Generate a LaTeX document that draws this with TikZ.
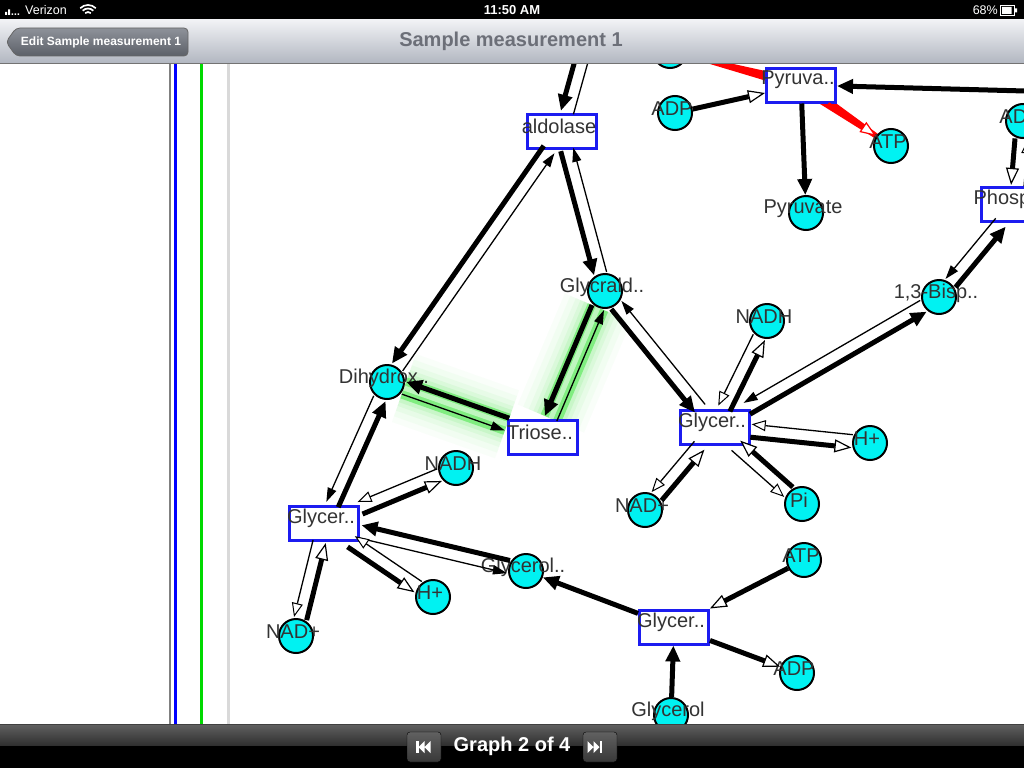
\documentclass[tikz,border=0pt]{standalone}
\usepackage{fontspec}
\setmainfont{Liberation Sans}
\usepackage{tikz}
\usetikzlibrary{arrows.meta,calc,backgrounds}

\definecolor{metcyan}{RGB}{0,242,242}
\definecolor{enzblue}{RGB}{28,28,240}
\definecolor{glow}{RGB}{110,235,110}
\definecolor{navtop}{RGB}{241,242,245}
\definecolor{navbot}{RGB}{178,183,193}
\definecolor{titlegray}{RGB}{108,111,120}
\definecolor{btntop}{RGB}{142,146,154}
\definecolor{btnbot}{RGB}{92,96,104}

\newcommand{\lbfont}{\fontsize{20}{22}\selectfont}

\tikzstyle{met}=[circle, draw=black, fill=metcyan, line width=2pt, minimum size=34pt, inner sep=0pt]
\tikzstyle{enz}=[rectangle, draw=enzblue, fill=white, line width=3pt, minimum width=69pt, minimum height=34pt, inner sep=0pt]
\tikzstyle{metlbl}=[font=\lbfont, text=black!80, inner sep=0pt, xshift=-3pt, yshift=4pt]
\tikzstyle{enzlbl}=[font=\lbfont, text=black!80, inner sep=0pt, xshift=-3pt, yshift=5pt]
\tikzstyle{fwd}=[line width=5pt, -{Triangle[length=16pt,width=14pt]}]
\tikzstyle{back}=[line width=1.3pt, -{Triangle[length=14pt,width=9pt]}]
\tikzstyle{cofwd}=[line width=5pt, -{Triangle[length=17pt,width=13pt,fill=white,line width=1.2pt]}]
\tikzstyle{coback}=[line width=1.3pt, -{Triangle[length=14pt,width=11pt,fill=white,line width=1pt]}]
\tikzstyle{redhead}=[red, line width=3pt, -{Triangle[length=16pt,width=12pt,fill=white,line width=1.2pt]}]
% each line of a pair sits on the right of its own direction
\tikzset{rs/.style 2 args={transform canvas={shift={($(#1)!6.5pt!-90:(#2)-(#1)$)}}}}

\begin{document}
\begin{tikzpicture}[x=1pt,y=-1pt]
\useasboundingbox (0,0) rectangle (1024,768);
\begin{scope}[on background layer]
\fill[white] (0,0) rectangle (1024,768);
\end{scope}

% upper part
\coordinate (fbp) at (593,20);
\coordinate (pkin) at (1100,93);
\node[enz, label={[enzlbl]center:aldolase}] (ald) at (562,131) {};
\node[enz, label={[enzlbl]center:Pyruva..}] (pk) at (801,85) {};
\node[met] (pep) at (670,51) {};
\node[met, label={[metlbl]center:ADP}] (adp1) at (675,113) {};
\node[met, label={[metlbl]center:ATP}] (atp1) at (891,146) {};
\node[met, label={[metlbl]center:Pyruvate}] (pyr) at (806,213) {};
\node[met, label={[metlbl]center:ADP}] (adp2) at (1023,121) {};
\node[enz, label={[enzlbl]center:Phosph..}] (pgk) at (1016,204) {};
\node[met, label={[metlbl]center:{1,3-Bisp..}}] (bpg) at (939,297) {};
\node[met, label={[metlbl]center:Glycrald..}] (gap) at (605,291) {};
\node[met, label={[metlbl]center:NADH}] (nadh1) at (767,321) {};
\node[enz, label={[enzlbl]center:Glycer..}] (gapdh) at (715,427) {};
\node[met, label={[metlbl]center:H+}] (h1) at (870,443) {};
\node[met, label={[metlbl]center:Pi}] (pi) at (802,504) {};
\node[met, label={[metlbl]center:NAD+}] (nad1) at (645,510) {};

% lower part
\node[met, label={[metlbl]center:Dihydrox..}] (dhap) at (387,382) {};
\node[enz, label={[enzlbl]center:Triose..}] (tpi) at (543,437) {};
\node[met, label={[metlbl]center:NADH}] (nadh2) at (456,468) {};
\node[enz, label={[enzlbl]center:Glycer..}] (g3pdh) at (324,523) {};
\node[met, label={[metlbl]center:NAD+}] (nad2) at (296,636) {};
\node[met, label={[metlbl]center:H+}] (h2) at (433,597) {};
\node[met, label={[metlbl]center:Glycerol..}] (g3p) at (526,571) {};
\node[met, label={[metlbl]center:ATP}] (atp3) at (804,560) {};
\node[enz, label={[enzlbl]center:Glycer..}] (gk) at (674,627) {};
\node[met, label={[metlbl]center:ADP}] (adp3) at (797,673) {};
\node[met, label={[metlbl]center:Glycerol}] (glol) at (671,715) {};

% highlight
\begin{scope}[on background layer, line cap=round]
\foreach \w/\o in {72/0.04, 60/0.05, 48/0.07, 38/0.1, 30/0.16}{
  \draw[draw=glow, line width=\w pt, opacity=\o] (dhap) -- (tpi) (tpi) -- (gap);
}
\draw[draw=glow, line width=22pt, opacity=0.8, line cap=butt] (dhap) -- (tpi) (tpi) -- (gap);
\draw[draw=white, line width=5pt, opacity=0.5, line cap=butt] (dhap) -- (tpi) (tpi) -- (gap);
\fill[red] ($(pep)!1pt!90:(pk)$) -- ($(pk)!6pt!-90:(pep)$) -- ($(pk)!6pt!90:(pep)$) -- ($(pep)!1pt!-90:(pk)$) -- cycle;
\fill[red] ($(pk)!6pt!90:(atp1)$) -- ($(atp1)!2pt!-90:(pk)$) -- ($(atp1)!2pt!90:(pk)$) -- ($(pk)!6pt!-90:(atp1)$) -- cycle;
\end{scope}

\draw[fwd,rs={fbp}{ald}] (fbp) -- (ald);
\draw[back,rs={ald}{fbp}] (ald) -- (fbp);
\draw[fwd,rs={ald}{dhap}] (ald) -- (dhap);
\draw[back,rs={dhap}{ald}] (dhap) -- (ald);
\draw[fwd,rs={ald}{gap}] (ald) -- (gap);
\draw[back,rs={gap}{ald}] (gap) -- (ald);
\draw[fwd,rs={gap}{tpi}] (gap) -- (tpi);
\draw[back,rs={tpi}{gap}] (tpi) -- (gap);
\draw[fwd,rs={tpi}{dhap}] (tpi) -- (dhap);
\draw[back,rs={dhap}{tpi}] (dhap) -- (tpi);

\draw[fwd,rs={gap}{gapdh}] (gap) -- (gapdh);
\draw[back,rs={gapdh}{gap}] (gapdh) -- (gap);
\draw[cofwd,rs={gapdh}{nadh1}] (gapdh) -- (nadh1);
\draw[coback,rs={nadh1}{gapdh}] (nadh1) -- (gapdh);
\draw[cofwd,rs={gapdh}{h1}] (gapdh) -- (h1);
\draw[coback,rs={h1}{gapdh}] (h1) -- (gapdh);
\draw[cofwd,rs={pi}{gapdh}] (pi) -- (gapdh);
\draw[coback,rs={gapdh}{pi}] (gapdh) -- (pi);
\draw[cofwd,rs={nad1}{gapdh}] (nad1) -- (gapdh);
\draw[coback,rs={gapdh}{nad1}] (gapdh) -- (nad1);
\draw[fwd,rs={gapdh}{bpg}] (gapdh) -- (bpg);
\draw[back,rs={bpg}{gapdh}] (bpg) -- (gapdh);
\draw[fwd,rs={bpg}{pgk}] (bpg) -- (pgk);
\draw[back,rs={pgk}{bpg}] (pgk) -- (bpg);
\draw[cofwd,rs={adp2}{pgk}] (adp2) -- (pgk);
\draw[coback,rs={pgk}{adp2}] (pgk) -- (adp2);

\draw[fwd] (pkin) -- (pk);
\draw[cofwd] (adp1) -- (pk);
\draw[fwd] (pk) -- (pyr);
\draw[redhead] (pk) -- (atp1);

\draw[fwd,rs={g3pdh}{dhap}] (g3pdh) -- (dhap);
\draw[back,rs={dhap}{g3pdh}] (dhap) -- (g3pdh);
\draw[cofwd,rs={g3pdh}{nadh2}] (g3pdh) -- (nadh2);
\draw[coback,rs={nadh2}{g3pdh}] (nadh2) -- (g3pdh);
\draw[fwd,rs={g3p}{g3pdh}] (g3p) -- (g3pdh);
\draw[back,rs={g3pdh}{g3p}] (g3pdh) -- (g3p);
\draw[cofwd,rs={g3pdh}{h2}] (g3pdh) -- (h2);
\draw[coback,rs={h2}{g3pdh}] (h2) -- (g3pdh);
\draw[cofwd,rs={nad2}{g3pdh}] (nad2) -- (g3pdh);
\draw[coback,rs={g3pdh}{nad2}] (g3pdh) -- (nad2);

\draw[fwd] (gk) -- (g3p);
\draw[cofwd] (atp3) -- (gk);
\draw[cofwd] (gk) -- (adp3);
\draw[fwd] (glol) -- (gk);

% side lines
\draw[gray, line width=2pt] (170,64) -- (170,724);
\draw[blue, line width=3pt] (175.5,64) -- (175.5,724);
\draw[green!85!black, line width=3pt] (201.5,64) -- (201.5,724);
\draw[black!15, line width=3pt] (228.5,64) -- (228.5,724);

% status bar
\fill[black] (0,0) rectangle (1024,20);
\fill[white] (5,12) rectangle (7,15) (8,9.5) rectangle (10,15);
\fill[white] (11.5,13.5) rectangle (13,15) (14.5,13.5) rectangle (16,15) (17.5,13.5) rectangle (19,15);
\node[white, font=\fontsize{12.5}{14}\selectfont, anchor=west, inner sep=0pt] (carrier) at (25,10.5) {Verizon};
\foreach \r in {4,7.5,11}
  \draw[white, line width=1.7pt] ([shift={(225:\r)}]88,16) arc[start angle=225, end angle=315, radius=\r];
\node[white, font=\bfseries\fontsize{13}{15}\selectfont] (clock) at (512,10.5) {11:50 AM};
\node[white, font=\fontsize{12.5}{14}\selectfont, anchor=east, inner sep=0pt] (charge) at (998,10.5) {68\%};
\draw[white, line width=1pt] (1000.5,5.5) rectangle (1014.5,15.5);
\fill[white] (1015,8.5) rectangle (1017,12.5) (1002,7) rectangle (1011.5,14);

% navigation bar
\shade[top color=navtop, bottom color=navbot] (0,20) rectangle (1024,63);
\draw[black!55, line width=1pt] (0,63.5) -- (1024,63.5);
\path[draw=black!60, line width=0.8pt, top color=btntop, bottom color=btnbot, rounded corners=4pt]
  (6,42) -- (16,28) -- (188,28) -- (188,56) -- (16,56) -- cycle;
\node[white, font=\bfseries\fontsize{12}{14}\selectfont] (backbtn) at (101,42) {Edit Sample measurement 1};
\node[titlegray, font=\bfseries\fontsize{20}{24}\selectfont] (title) at (511,41) {Sample measurement 1};

% bottom bar
\shade[top color=black!62, bottom color=black!82] (0,724) rectangle (1024,746);
\fill[black] (0,746) rectangle (1024,768);
\draw[black!75, line width=1pt] (0,724.5) -- (1024,724.5);
\path[draw=black, top color=black!62, bottom color=black!78, rounded corners=3pt] (407,732) rectangle (441,762);
\path[draw=black, top color=black!62, bottom color=black!78, rounded corners=3pt] (583,732) rectangle (617,762);
\fill[white] (416,741) rectangle (418.5,753);
\fill[white] (418.5,747) -- (424.5,741) -- (424.5,753) -- cycle (424.5,747) -- (430.5,741) -- (430.5,753) -- cycle;
\fill[white] (593.5,741) -- (599.5,747) -- (593.5,753) -- cycle (587.5,741) -- (593.5,747) -- (587.5,753) -- cycle;
\fill[white] (599.5,741) rectangle (602,753);
\node[white, font=\bfseries\fontsize{20}{24}\selectfont] (pager) at (512,746) {Graph 2 of 4};
\end{tikzpicture}
\end{document}
